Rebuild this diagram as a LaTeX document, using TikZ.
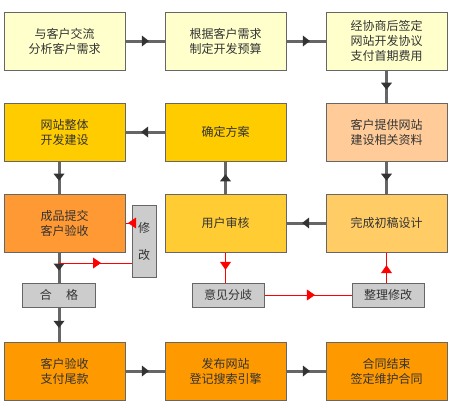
\documentclass[tikz,border=0pt]{standalone}
\usepackage{fontspec}
\setmainfont{Noto Sans CJK SC}
\usetikzlibrary{positioning, arrows.meta, decorations.markings}
\definecolor{pale}{HTML}{FFFFCC}
\definecolor{gold}{HTML}{FFCC00}
\definecolor{peach}{HTML}{FFCC99}
\definecolor{tangerine}{HTML}{FF9933}
\definecolor{amber}{HTML}{FFCC33}
\definecolor{sand}{HTML}{FFCC66}
\definecolor{deeporange}{HTML}{FF9900}
\definecolor{taggrey}{HTML}{CCCCCC}
\definecolor{edgegrey}{HTML}{666666}
\definecolor{linegrey}{HTML}{666666}
\definecolor{tipgrey}{HTML}{333333}
\definecolor{txtgrey}{HTML}{333333}

\begin{document}
\begin{tikzpicture}[
    x=1pt, y=-1pt,
    node distance=32pt and 39pt,
    every node/.style={align=center, font=\fontsize{12}{15}\selectfont, text=txtgrey},
    box/.style={draw=edgegrey, line width=1pt, rectangle, minimum width=121pt, minimum height=58pt, inner sep=0pt},
    tag/.style={draw=edgegrey, line width=1pt, rectangle, fill=taggrey, minimum width=72pt, minimum height=24pt, inner sep=0pt},
    arrow/.style={draw=linegrey, line width=3pt, postaction={decorate},
        decoration={markings, mark=at position 0.6 with {\arrow[tipgrey, line width=0pt]{Triangle[length=7pt, width=11pt]}}}},
    redarrow/.style={draw=red, line width=1pt, postaction={decorate},
        decoration={markings, mark=at position 0.58 with {\arrow[red, line width=0pt]{Triangle[length=8pt, width=11pt]}}}},
]
\useasboundingbox (0,0) rectangle (450,413);
% First row
\node[box, fill=pale] (talk) at (64.5,41) {与客户交流\\分析客户需求};
\node[box, fill=pale, right=of talk] (budget) {根据客户需求\\制定开发预算};
\node[box, fill=pale, right=of budget] (contract) {经协商后签定\\网站开发协议\\支付首期费用};
% Second row
\node[box, fill=gold, below=of talk] (build) {网站整体\\开发建设};
\node[box, fill=gold, below=of budget] (plan) {确定方案};
\node[box, fill=peach, below=of contract] (material) {客户提供网站\\建设相关资料};
% Third row
\node[box, fill=tangerine, below=of build] (submit) {成品提交\\客户验收};
\node[box, fill=amber, below=of plan] (review) {用户审核};
\node[box, fill=sand, below=of material] (draft) {完成初稿设计};
% Grey tags
\node[tag, minimum width=73pt] (pass) at (59,295) {合\hspace{1.2em}格};
\node[tag, minimum width=24pt, minimum height=72pt] (fix) at (144,241) {修\\[12pt]改};
\node[tag] (dispute) at (228,295) {意见分歧};
\node[tag] (revise) at (388,295) {整理修改};
% Last row
\node[box, fill=deeporange] (pay) at (64.5,371) {客户验收\\支付尾款};
\node[box, fill=deeporange, right=of pay] (publish) {发布网站\\登记搜索引擎};
\node[box, fill=deeporange, right=of publish] (finish) {合同结束\\签定维护合同};
% Main flow
\draw[arrow] (talk) -- (budget);
\draw[arrow] (budget) -- (contract);
\draw[arrow] (contract) -- (material);
\draw[arrow] (material) -- (draft);
\draw[arrow] (draft) -- (review);
\draw[arrow] (review) -- (plan);
\draw[arrow] (plan) -- (build);
\draw[arrow] (build.south -| pass) -- (submit.north -| pass);
\draw[arrow] (submit.south -| pass) -- (pass);
\draw[arrow] (pass) -- (pay.north -| pass);
\draw[arrow] (pay) -- (publish);
\draw[arrow] (publish) -- (finish);
% Red loops
\coordinate (split) at (59,263);
\draw[redarrow] (split) -- (split -| fix.west);
\draw[redarrow] (fix.west |- submit.east) -- (submit.east);
\draw[redarrow] (review.south) -- (review.south |- dispute.north);
\draw[redarrow] (dispute) -- (revise);
\draw[redarrow] (revise.north -| draft) -- (draft.south);
\end{tikzpicture}
\end{document}
